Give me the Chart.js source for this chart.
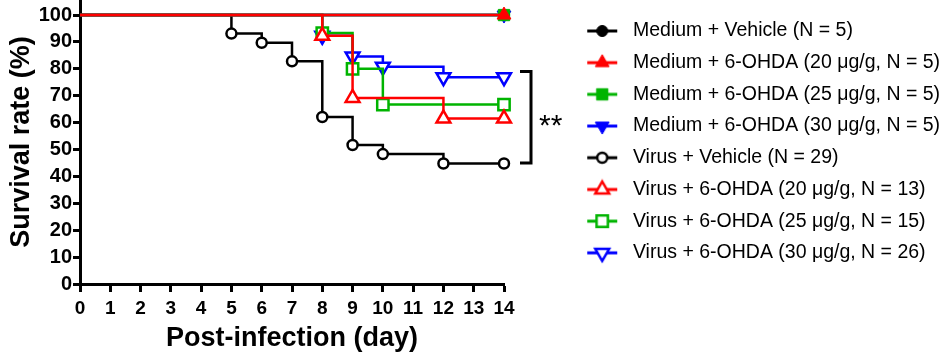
<!DOCTYPE html>
<html>
<head>
<meta charset="utf-8">
<title>Survival rate</title>
<script src="https://cdn.jsdelivr.net/npm/chart.js@4.4.1/dist/chart.umd.min.js"></script>
<style>
  html, body { margin: 0; padding: 0; background: #fff; }
  #wrap { width: 945px; height: 355px; }
</style>
</head>
<body>
<div id="wrap"><canvas id="survChart"></canvas></div>
<script>
// Kaplan-Meier curves (day -> % surviving)
const medVehDays = [0, 14];
const medVehSurv = [100, 100];
const med20Days = [0, 14];
const med20Surv = [100, 100];
const med25Days = [0, 14];
const med25Surv = [100, 100];
const med30Days = [0, 14];
const med30Surv = [100, 100];
const virVehDays = [0, 5, 6, 7, 8, 9, 10, 12, 14];
const virVehSurv = [100, 93.1, 89.7, 82.8, 62.1, 51.7, 48.3, 44.8, 44.8];
const vir20Days = [0, 8, 9, 12, 14];
const vir20Surv = [100, 92.3, 69.2, 61.5, 61.5];
const vir25Days = [0, 8, 9, 10, 14];
const vir25Surv = [100, 93.3, 80, 66.7, 66.7];
const vir30Days = [0, 8, 9, 10, 12, 14];
const vir30Surv = [100, 92.3, 84.6, 80.8, 76.9, 76.9];

const seriesLabels = [
    'Medium + Vehicle (N = 5)',
    'Medium + 6-OHDA (20 μg/g, N = 5)',
    'Medium + 6-OHDA (25 μg/g, N = 5)',
    'Medium + 6-OHDA (30 μg/g, N = 5)',
    'Virus + Vehicle (N = 29)',
    'Virus + 6-OHDA (20 μg/g, N = 13)',
    'Virus + 6-OHDA (25 μg/g, N = 15)',
    'Virus + 6-OHDA (30 μg/g, N = 26)'
];
const bracketRange = [79, 45]; // Virus groups compared
const sigLabel = '**';

const BLACK = '#000000', RED = '#ff0000', GREEN = '#00b400', BLUE = '#0000ff';
const FONT = "'Liberation Sans', Arial, sans-serif";

// marker look for each series (same order as labels)
const looks = [
    { days: medVehDays, surv: medVehSurv, color: BLACK, shape: 'circle',   rot: 0,   r: 5.5, open: false, order: 6 },
    { days: med20Days,  surv: med20Surv,  color: RED,   shape: 'triangle', rot: 0,   r: 8,   open: false, order: 0 },
    { days: med25Days,  surv: med25Surv,  color: GREEN, shape: 'rect',     rot: 0,   r: 8,   open: false, order: 2 },
    { days: med30Days,  surv: med30Surv,  color: BLUE,  shape: 'triangle', rot: 180, r: 8,   open: false, order: 4 },
    { days: virVehDays, surv: virVehSurv, color: BLACK, shape: 'circle',   rot: 0,   r: 5,   open: true,  order: 7 },
    { days: vir20Days,  surv: vir20Surv,  color: RED,   shape: 'triangle', rot: 0,   r: 8,   open: true,  order: 1 },
    { days: vir25Days,  surv: vir25Surv,  color: GREEN, shape: 'rect',     rot: 0,   r: 8,   open: true,  order: 3 },
    { days: vir30Days,  surv: vir30Surv,  color: BLUE,  shape: 'triangle', rot: 180, r: 8,   open: true,  order: 5 }
];

// legend icon: short line with the marker in the middle, right side of a wide box
const ICON_W = 107;
function makeIcon(s) {
    const c = document.createElement('canvas');
    c.width = ICON_W; c.height = 22;
    const g = c.getContext('2d');
    g.strokeStyle = s.color;
    g.lineWidth = 3;
    g.beginPath(); g.moveTo(71, 11); g.lineTo(101, 11); g.stroke();
    g.fillStyle = s.open ? '#ffffff' : s.color;
    g.lineWidth = s.open ? 2.5 : 1;
    Chart.helpers.drawPoint(g, { pointStyle: s.shape, rotation: s.rot, radius: s.r, borderWidth: g.lineWidth }, 86, 11);
    return c;
}
const legendIcons = looks.map(makeIcon);

const datasets = looks.map((s, i) => ({
    label: seriesLabels[i],
    data: s.days.map((d, k) => ({ x: d, y: s.surv[k] })),
    borderColor: s.color,
    backgroundColor: s.color,
    borderWidth: 2.5,
    stepped: 'before',
    fill: false,
    clip: false,
    order: s.order,
    pointStyle: s.shape,
    pointRotation: s.rot,
    pointRadius: c => c.dataIndex === 0 ? 0 : s.r,
    pointBackgroundColor: s.open ? '#ffffff' : s.color,
    pointBorderColor: s.color,
    pointBorderWidth: s.open ? 2.5 : 1
}));

// significance bracket to the right of the curves
const sigBracket = {
    id: 'sigBracket',
    afterDatasetsDraw(chart) {
        const { ctx, chartArea, scales: { y } } = chart;
        const top = y.getPixelForValue(bracketRange[0]);
        const bot = y.getPixelForValue(bracketRange[1]);
        const xr = chartArea.right + 27;
        ctx.save();
        ctx.strokeStyle = BLACK;
        ctx.lineWidth = 3;
        ctx.lineJoin = 'miter';
        ctx.beginPath();
        ctx.moveTo(xr - 11, top);
        ctx.lineTo(xr, top);
        ctx.lineTo(xr, bot);
        ctx.lineTo(xr - 11, bot);
        ctx.stroke();
        ctx.fillStyle = BLACK;
        ctx.font = '30px ' + FONT;
        ctx.textBaseline = 'alphabetic';
        ctx.fillText(sigLabel, xr + 8, (top + bot) / 2 + 17.5);
        ctx.restore();
    }
};

const tickFont = { family: FONT, size: 19, weight: 'bold' };
const yTickFont = { family: FONT, size: 20, weight: 'bold' };
const titleFont = { family: FONT, size: 27, weight: 'bold' };

const survChart = new Chart(document.getElementById('survChart'), {
    type: 'line',
    data: { datasets },
    options: {
        responsive: true,
        maintainAspectRatio: false,
        animation: false,
        layout: { autoPadding: false, padding: { top: 0, right: 4, bottom: 0, left: 0 } },
        scales: {
            x: {
                type: 'linear',
                min: 0,
                max: 14,
                ticks: { stepSize: 1, autoSkip: false, maxRotation: 0, color: BLACK, font: tickFont, padding: 5 },
                grid: { display: true, drawOnChartArea: false, color: BLACK, tickLength: 8, tickWidth: 3 },
                border: { display: true, color: BLACK, width: 3 },
                title: { display: true, text: 'Post-infection (day)', color: BLACK, font: titleFont, padding: 0 },
                afterFit: s => { s.height = 71; }
            },
            y: {
                min: 0,
                max: 105.6,
                ticks: { stepSize: 10, includeBounds: false, autoSkip: false, color: BLACK, font: yTickFont, padding: 1 },
                afterBuildTicks: s => { s.ticks = s.ticks.filter(t => t.value % 10 === 0 && t.value <= 100); },
                grid: { display: true, drawOnChartArea: false, color: BLACK, tickLength: 7, tickWidth: 3 },
                border: { display: true, color: BLACK, width: 3 },
                title: { display: true, text: 'Survival rate (%)', color: BLACK, font: titleFont, padding: { top: 5, bottom: 0 } },
                afterFit: s => { s.width = 80; s.paddingTop = 0; s.paddingBottom = 0; }
            }
        },
        plugins: {
            legend: {
                position: 'right',
                align: 'start',
                maxWidth: 437,
                title: { display: true, text: '', font: { size: 9, lineHeight: 1 }, padding: 0 },
                labels: {
                    usePointStyle: true,
                    pointStyleWidth: ICON_W,
                    padding: 12.2,
                    color: BLACK,
                    font: { family: FONT, size: 19.5 },
                    generateLabels: chart => Chart.defaults.plugins.legend.labels.generateLabels(chart)
                        .map(item => Object.assign(item, { pointStyle: legendIcons[item.datasetIndex], rotation: 0 })),
                    sort: (a, b) => a.datasetIndex - b.datasetIndex
                }
            },
            tooltip: { enabled: false }
        }
    },
    plugins: [sigBracket]
});
</script>
</body>
</html>
